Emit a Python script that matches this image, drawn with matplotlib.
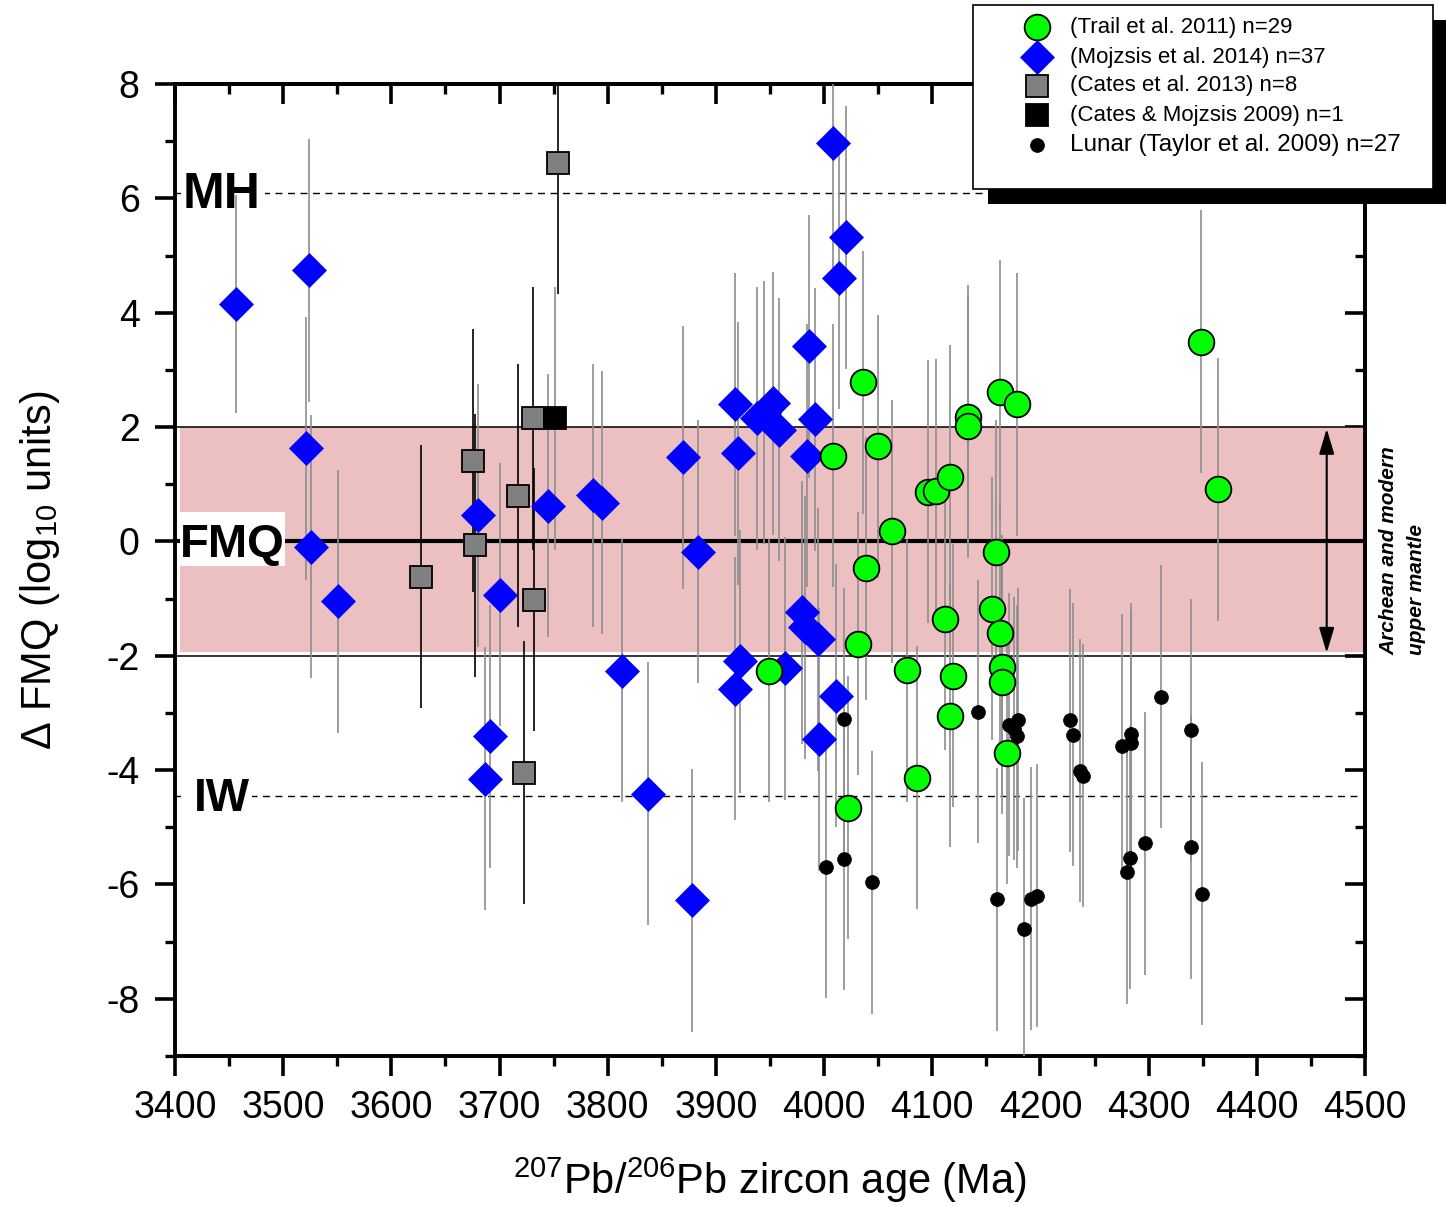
import matplotlib
matplotlib.use("Agg")
import matplotlib.pyplot as plt
from matplotlib.patches import Rectangle
from matplotlib.lines import Line2D
from matplotlib.ticker import MultipleLocator

plt.rcParams["font.family"] = ["Liberation Sans", "DejaVu Sans"]
plt.rcParams["mathtext.fontset"] = "custom"
plt.rcParams["mathtext.rm"] = "Liberation Sans"
plt.rcParams["mathtext.it"] = "Liberation Sans:italic"
plt.rcParams["mathtext.bf"] = "Liberation Sans:bold"
plt.rcParams["axes.unicode_minus"] = False

# ---------------- data ----------------
# Trail et al. 2011 (Hadean zircons, Ce anomaly oxybarometry)
trail_age = [4008, 4022, 4031, 4036, 4039, 4050, 4063, 4077, 4086, 4096,
             4103, 4112, 4116, 4116, 4119, 4133, 4133, 4155, 4159, 4163,
             4163, 4164, 4164, 4169, 4178, 4348, 4364, 3949]
trail_dfmq = [1.50, -4.66, -1.79, 2.78, -0.47, 1.66, 0.18, -2.25, -4.13, 0.87,
              0.89, -1.35, 1.13, -3.05, -2.35, 2.18, 2.01, -1.18, -0.18, 2.62,
              -1.60, -2.19, -2.46, -3.70, 2.40, 3.49, 0.91, -2.26]
trail_err = [2.3, 2.3, 2.3, 2.3, 2.3, 2.3, 2.3, 2.3, 2.3, 2.3,
             2.3, 2.3, 2.3, 2.3, 2.3, 2.3, 2.3, 2.3, 2.3, 2.3,
             2.3, 2.3, 2.3, 2.3, 2.3, 2.3, 2.3, 2.3]

# Mojzsis et al. 2014
moj_age = [3456, 3524, 3521, 3526, 3551, 3680, 3700, 3691, 3687, 3745,
           3786, 3795, 3813, 3837, 3870, 3878, 3883, 3918, 3920, 3922,
           3918, 3938, 3944, 3953, 3958, 3964, 3980, 3982, 3994, 3986,
           3984, 3992, 3995, 4008, 4011, 4014, 4020]
moj_dfmq = [4.15, 4.74, 1.63, -0.09, -1.05, 0.46, -0.93, -3.41, -4.15, 0.62,
            0.81, 0.68, -2.26, -4.41, 1.47, -6.28, -0.18, 2.40, 1.54, -2.10,
            -2.58, 2.15, 2.25, 2.42, 1.95, -2.22, -1.24, -1.50, -1.71, 3.41,
            1.50, 2.14, -3.46, 6.96, -2.70, 4.61, 5.32]
moj_err = [1.9, 2.3, 2.3, 2.3, 2.3, 2.3, 2.3, 2.3, 2.3, 2.3,
           2.3, 2.3, 2.3, 2.3, 2.3, 2.3, 2.3, 2.3, 2.3, 2.3,
           2.3, 2.3, 2.3, 2.3, 2.3, 2.3, 2.3, 2.3, 2.3, 2.3,
           2.3, 2.3, 2.3, 2.3, 2.3, 2.3, 2.3]

# Cates et al. 2013
cates13_age = [3627, 3675, 3677, 3717, 3723, 3731, 3732, 3754]
cates13_dfmq = [-0.62, 1.41, -0.07, 0.80, -4.05, 2.15, -1.02, 6.62]
cates13_err = [2.3, 2.3, 2.3, 2.3, 2.3, 2.3, 2.3, 2.3]

# Cates & Mojzsis 2009
cates09_age = [3751]
cates09_dfmq = [2.15]
cates09_err = [2.3]

# Lunar zircons (Taylor et al. 2009)
lunar_age = [4002, 4018, 4018, 4044, 4142, 4160, 4171, 4176, 4179, 4178,
             4185, 4191, 4197, 4227, 4230, 4237, 4239, 4275, 4284, 4284,
             4311, 4297, 4283, 4280, 4339, 4339, 4349]
lunar_dfmq = [-5.69, -3.11, -5.55, -5.96, -2.98, -6.26, -3.21, -3.28, -3.12, -3.41,
              -6.78, -6.25, -6.20, -3.13, -3.38, -4.01, -4.10, -3.57, -3.37, -3.52,
              -2.72, -5.28, -5.53, -5.79, -3.30, -5.35, -6.16]
lunar_err = [2.3, 2.3, 2.3, 2.3, 2.3, 2.3, 2.3, 2.3, 2.3, 2.3,
             2.3, 2.3, 2.3, 2.3, 2.3, 2.3, 2.3, 2.3, 2.3, 2.3,
             2.3, 2.3, 2.3, 2.3, 2.3, 2.3, 2.3]

legend_labels = ["(Trail et al. 2011) n=29", "(Mojzsis et al. 2014) n=37",
                 "(Cates et al. 2013) n=8", "(Cates & Mojzsis 2009) n=1",
                 "Lunar (Taylor et al. 2009) n=27"]

MH_LEVEL = 6.1
IW_LEVEL = -4.45

# ---------------- figure ----------------
W, H = 1446, 1206
fig = plt.figure(figsize=(W / 100, H / 100), dpi=100)
ax = fig.add_axes([175 / W, 1 - 1056 / H, 1190 / W, (1056 - 84) / H])
ax.set_xlim(3400, 4500)
ax.set_ylim(-9, 8)

# upper-mantle band and reference buffers
ax.axhspan(-1.94, 2.0, xmin=0.004, xmax=1.0, color="#ecc0c0", lw=0, zorder=0.5)
ax.axhline(2.0, color="k", lw=1.1, zorder=1)
ax.axhline(-2.0, color="k", lw=1.1, zorder=1)
ax.axhline(0.0, color="k", lw=3.0, zorder=1.2)
ax.axhline(MH_LEVEL, color="k", lw=1.0, ls=(0, (5, 4)), zorder=1)
ax.axhline(IW_LEVEL, color="k", lw=1.0, ls=(0, (5, 4)), zorder=1)

# white label patches behind buffer names
ax.add_patch(Rectangle((3404.6, -0.43), 97.1, 0.94, fc="white", ec="none", zorder=1.5))
ax.add_patch(Rectangle((3405.5, MH_LEVEL - 0.35), 77.5, 0.7, fc="white", ec="none", zorder=1.5))
ax.add_patch(Rectangle((3406.0, IW_LEVEL - 0.35), 65.5, 0.7, fc="white", ec="none", zorder=1.5))
ax.text(3443, 5.83, "MH", fontsize=36, fontweight="bold", ha="center", va="baseline", zorder=2)
ax.text(3453, -0.27, "FMQ", fontsize=34, fontweight="bold", ha="center", va="baseline", zorder=2)
ax.text(3443, -4.72, "IW", fontsize=33, fontweight="bold", ha="center", va="baseline", zorder=2)

# error bars
def vbars(x, y, e, color, lw, z):
    lo = [yy - ee for yy, ee in zip(y, e)]
    hi = [yy + ee for yy, ee in zip(y, e)]
    ax.vlines(x, lo, hi, colors=color, lw=lw, zorder=z)

gray_bar = "#8e8e8e"
vbars(lunar_age, lunar_dfmq, lunar_err, gray_bar, 1.2, 3)
vbars(moj_age, moj_dfmq, moj_err, gray_bar, 1.2, 3)
vbars(trail_age, trail_dfmq, trail_err, gray_bar, 1.2, 3)
vbars(cates09_age, cates09_dfmq, cates09_err, gray_bar, 1.2, 3)
vbars(cates13_age, cates13_dfmq, cates13_err, "black", 1.2, 3)

style_trail = dict(marker="o", ms=18.5, mfc="#00ff00", mec="black", mew=1.3, ls="none")
style_moj = dict(marker="D", ms=17, mfc="#0000ff", mec="#0000ff", mew=0.5, ls="none")
style_c13 = dict(marker="s", ms=16.5, mfc="#808080", mec="black", mew=1.3, ls="none")
style_c09 = dict(marker="s", ms=16.5, mfc="black", mec="black", mew=1.3, ls="none")
style_lunar = dict(marker="o", ms=10, mfc="black", mec="black", mew=0.5, ls="none")

ax.plot(lunar_age, lunar_dfmq, zorder=4, **style_lunar)
ax.plot(cates13_age, cates13_dfmq, zorder=5, **style_c13)
ax.plot(cates09_age, cates09_dfmq, zorder=6, **style_c09)
ax.plot(moj_age, moj_dfmq, zorder=6, **style_moj)
ax.plot(trail_age, trail_dfmq, zorder=7, **style_trail)

# mantle range arrow
ax.annotate("", xy=(4464.6, -1.95), xytext=(4464.6, 1.97),
            arrowprops=dict(arrowstyle="<|-|>,head_length=1.1,head_width=0.33",
                            mutation_scale=14, lw=1.5, color="black",
                            shrinkA=0, shrinkB=0), zorder=8)

# axes styling
for sp in ax.spines.values():
    sp.set_linewidth(2.8)
ax.set_xticks(range(3400, 4501, 100))
ax.set_yticks(range(-8, 9, 2))
ax.xaxis.set_minor_locator(MultipleLocator(50))
ax.yaxis.set_minor_locator(MultipleLocator(1))
ax.tick_params(which="major", direction="out", length=14.4, width=2.6, labelsize=27)
ax.tick_params(which="minor", direction="out", length=7.2, width=2.4)
ax.tick_params(axis="x", which="major", pad=10)
ax.tick_params(axis="y", which="major", pad=11)

sx = ax.secondary_xaxis("top")
sx.set_xticks(range(3400, 4501, 100))
sx.xaxis.set_minor_locator(MultipleLocator(50))
sx.tick_params(which="major", direction="in", length=14.4, width=2.6, labeltop=False)
sx.tick_params(which="minor", direction="in", length=7.2, width=2.4)
sx.spines["top"].set_linewidth(2.8)

sy = ax.secondary_yaxis("right")
sy.set_yticks(range(-8, 9, 2))
sy.yaxis.set_minor_locator(MultipleLocator(1))
sy.tick_params(which="major", direction="in", length=14.4, width=2.6, labelright=False)
sy.tick_params(which="minor", direction="in", length=7.2, width=2.4)
sy.spines["right"].set_linewidth(2.8)

# axis titles
fig.text(770 / W, 1 - 1180 / H, r"$^{207}$Pb/$^{206}$Pb zircon age (Ma)",
         fontsize=30, ha="center", va="center")
fig.text(40 / W, 1 - 570 / H, r"Δ FMQ (log$_{10}$ units)",
         fontsize=30, ha="center", va="center", rotation=90)

# side annotation
fig.text(1389 / W, 1 - 655 / H, "Archean and modern", fontsize=15,
         fontweight="bold", fontstyle="italic", rotation=90, ha="center", va="bottom")
fig.text(1416 / W, 1 - 655 / H, "upper mantle", fontsize=15,
         fontweight="bold", fontstyle="italic", rotation=90, ha="center", va="bottom")

# legend with drop shadow
fig.add_artist(Rectangle((988 / W, 1 - 204 / H), 470 / W, 184 / H,
                         transform=fig.transFigure, fc="black", ec="none", zorder=10))
fig.add_artist(Rectangle((973 / W, 1 - 189 / H), 460 / W, 184 / H,
                         transform=fig.transFigure, fc="white", ec="black", lw=1.2, zorder=11))
rows_y = [27, 57, 86, 115, 145]
row_fs = [16, 16, 16, 16, 17.5]
styles = [style_trail, style_moj, style_c13, style_c09, style_lunar]
for yy, st, lab, fs in zip(rows_y, styles, legend_labels, row_fs):
    fig.add_artist(Line2D([1037 / W], [1 - yy / H], transform=fig.transFigure,
                          zorder=12, **st))
    fig.text(1070 / W, 1 - yy / H, lab, fontsize=fs, ha="left", va="center", zorder=13)

fig.savefig("out.png", dpi=100)
